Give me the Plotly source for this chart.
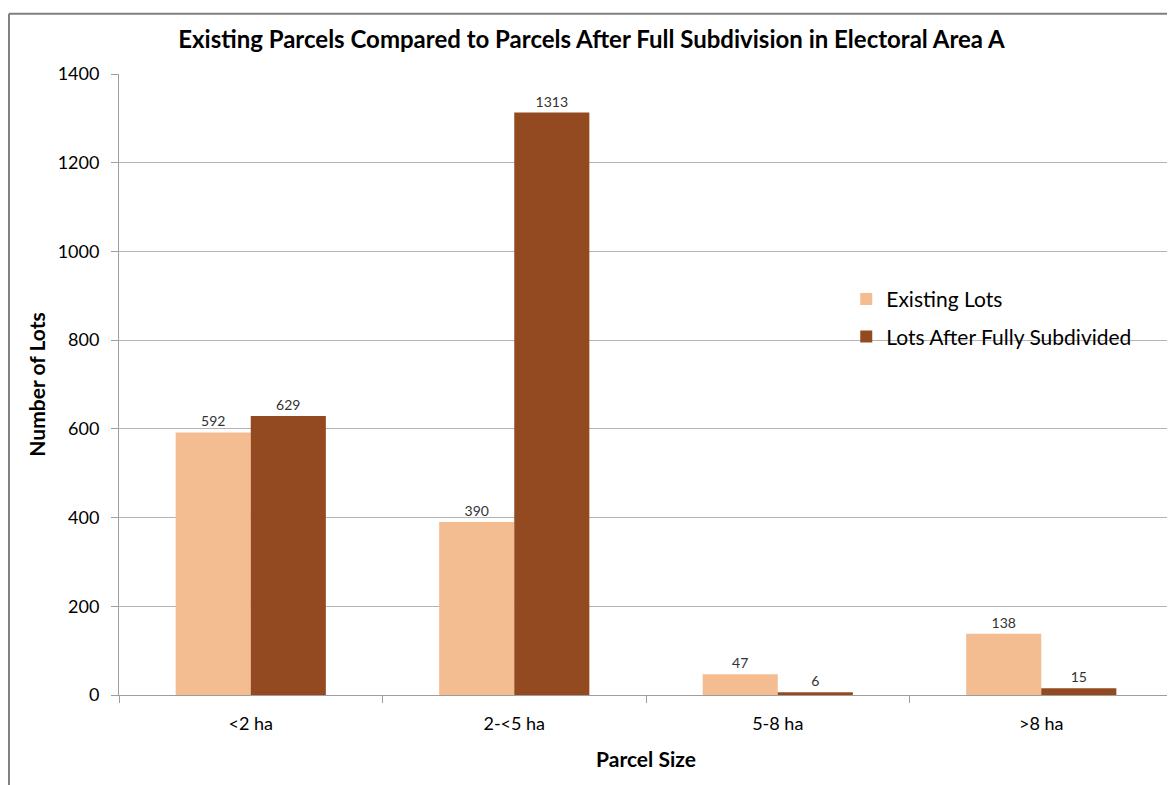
import plotly.graph_objects as go

categories = ["<2 ha", "2-<5 ha", "5-8 ha", ">8 ha"]
existing_lots = [592, 390, 47, 138]
after_subdivided = [629, 1313, 6, 15]
series_names = ["Existing Lots", "Lots After Fully Subdivided"]
y_ticks = [0, 200, 400, 600, 800, 1000, 1200, 1400]

FONT = "Lato, Open Sans, sans-serif"

fig = go.Figure()
fig.add_trace(go.Bar(
    x=categories, y=existing_lots, name=series_names[0], legendgroup="a",
    marker=dict(color="#F4BD91", line=dict(width=0)),
    text=existing_lots, textposition="outside", cliponaxis=False,
    textfont=dict(size=14, color="#333333", family=FONT),
))
fig.add_trace(go.Bar(
    x=categories, y=after_subdivided, name=series_names[1], legendgroup="b",
    marker=dict(color="#934A21", line=dict(width=0)),
    text=after_subdivided, textposition="outside", cliponaxis=False,
    textfont=dict(size=14, color="#333333", family=FONT),
))

fig.update_layout(
    width=1167, height=777,
    margin=dict(l=111, r=2, t=66, b=90),
    paper_bgcolor="white", plot_bgcolor="white",
    barmode="group", bargap=0.43, bargroupgap=0,
    font=dict(family=FONT, color="#000000"),
    title=dict(
        text="<b>Existing Parcels Compared to Parcels After Full Subdivision in Electoral Area A</b>",
        x=0.5, xanchor="center", y=0.959, yanchor="middle",
        font=dict(size=24, color="#000000", family=FONT),
    ),
    legend=dict(
        x=0.69, y=0.67, xanchor="left", yanchor="top",
        bgcolor="rgba(0,0,0,0)", font=dict(size=21, family=FONT),
        traceorder="grouped", itemwidth=30, tracegroupgap=7,
    ),
    showlegend=True,
)

fig.update_xaxes(
    type="category", tickson="boundaries",
    showline=True, linecolor="#9e9e9e", linewidth=1,
    ticks="outside", ticklen=7, tickcolor="#9e9e9e",
    showgrid=False, ticklabelstandoff=12,
    tickfont=dict(size=18, family=FONT),
    title=dict(text="<b>Parcel Size</b>", font=dict(size=21, family=FONT), standoff=19),
)
fig.update_yaxes(
    range=[0, 1400], tickvals=y_ticks,
    showline=True, linecolor="#9e9e9e", linewidth=1,
    ticks="outside", ticklen=7, tickcolor="#9e9e9e",
    showgrid=True, gridcolor="#b3b3b3", gridwidth=1,
    zeroline=False, ticklabelstandoff=8,
    tickfont=dict(size=18, family=FONT),
    title=dict(text="<b>Number of Lots</b>", font=dict(size=21, family=FONT), standoff=6),
)

# outer chart border: left and top edges (right/bottom lie beyond the canvas)
border = dict(color="#7f7f7f", width=2)
fig.add_shape(type="line", xref="paper", yref="paper", layer="above",
              x0=-0.1044, y0=-0.2, x1=-0.1044, y1=1.097, line=border)
fig.add_shape(type="line", xref="paper", yref="paper", layer="above",
              x0=-0.1044, y0=1.097, x1=1.003, y1=1.097, line=border)

fig.write_html("out.html")
